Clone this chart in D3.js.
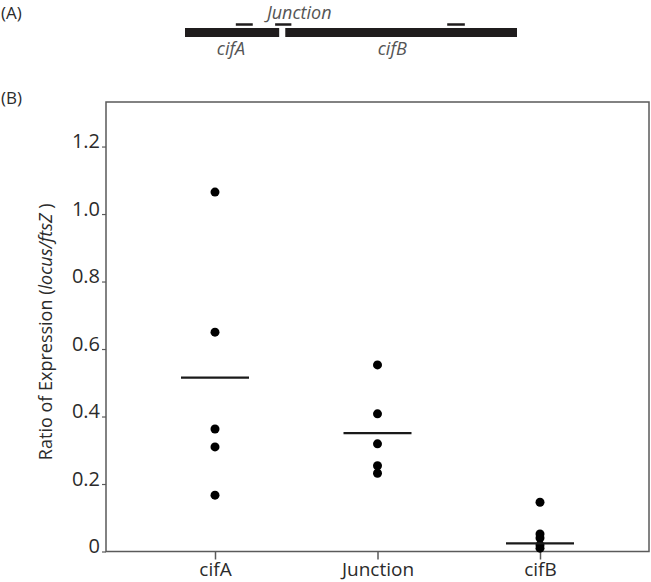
<!DOCTYPE html>
<html>
<head>
<meta charset="utf-8">
<title>cif expression</title>
<script src="https://d3js.org/d3.v7.min.js"></script>
<style>
  body { margin: 0; background: #fff; }
  text { font-family: "Open Sans", "Noto Sans", sans-serif; }
</style>
</head>
<body>
<svg id="mainsvg" width="651" height="582"></svg>
<script>
// ---- data ----
const categories = ['cifA', 'Junction', 'cifB'];
const cifAValues = [1.065, 0.650, 0.363, 0.310, 0.167];
const junctionValues = [0.553, 0.408, 0.319, 0.254, 0.232];
const cifBValues = [0.146, 0.052, 0.040, 0.019, 0.010];
const meanValues = [0.515, 0.351, 0.024];
const yTicks = [0, 0.2, 0.4, 0.6, 0.8, 1.0, 1.2];
const yTickLabels = ['0', '0.2', '0.4', '0.6', '0.8', '1.0', '1.2'];

// gene map (kb, estimated)
const geneNames = ['cifA', 'cifB'];
const geneStarts = [0, 1.48];
const geneEnds = [1.39, 4.9];
const probeStarts = [0.75, 1.33, 3.87];
const probeEnds = [1.0, 1.57, 4.13];

const svg = d3.select('#mainsvg');
const axisColor = '#5a5a5a';
const textColor = '#2b2b2b';

// panel labels
svg.append('text').attr('x', 1).attr('y', 19).attr('font-size', 17)
  .attr('fill', textColor).text('(A)');
svg.append('text').attr('x', 1).attr('y', 104).attr('font-size', 17)
  .attr('fill', textColor).text('(B)');

// ---- (A) gene map ----
const mapX = d3.scaleLinear().domain([0, 4.9]).range([185, 517]);
const gA = svg.append('g');
gA.selectAll('rect.gene')
  .data(geneNames)
  .join('rect')
  .attr('class', 'gene')
  .attr('x', (d, i) => mapX(geneStarts[i]))
  .attr('y', 28)
  .attr('width', (d, i) => mapX(geneEnds[i]) - mapX(geneStarts[i]))
  .attr('height', 9)
  .attr('fill', '#1f1c1d');
gA.selectAll('line.probe')
  .data(probeStarts)
  .join('line')
  .attr('class', 'probe')
  .attr('x1', d => mapX(d))
  .attr('x2', (d, i) => mapX(probeEnds[i]))
  .attr('y1', 24.5).attr('y2', 24.5)
  .attr('stroke', '#1f1c1d').attr('stroke-width', 2.5);
gA.selectAll('text.gname')
  .data(geneNames)
  .join('text')
  .attr('class', 'gname')
  .attr('x', (d, i) => i === 0 ? mapX(geneStarts[i]) + 46 : mapX(geneStarts[i]) + 107)
  .attr('y', 55)
  .attr('text-anchor', 'middle')
  .attr('font-size', 18)
  .attr('font-style', 'italic')
  .attr('fill', '#555')
  .text(d => d);
gA.append('text')
  .attr('x', mapX((probeStarts[1] + probeEnds[1]) / 2) + 16)
  .attr('y', 19)
  .attr('text-anchor', 'middle')
  .attr('font-size', 18)
  .attr('font-style', 'italic')
  .attr('fill', '#555')
  .text('Junction');

// ---- (B) dot plot ----
const frame = { left: 106, right: 649, top: 102, bottom: 551.5 };
const x = d3.scalePoint().domain(categories).range([215, 540]);
const y = d3.scaleLinear().domain([0, 1.332]).range([frame.bottom, frame.top]);

const g = svg.append('g');

// frame
g.append('rect')
  .attr('x', frame.left).attr('y', frame.top)
  .attr('width', frame.right - frame.left)
  .attr('height', frame.bottom - frame.top)
  .attr('fill', 'none')
  .attr('stroke', axisColor).attr('stroke-width', 1.5);

// y axis
const yAxis = d3.axisLeft(y).tickValues(yTicks)
  .tickFormat((d, i) => yTickLabels[i]).tickSize(4).tickPadding(2);
const yg = g.append('g').attr('transform', `translate(${frame.left},0)`).call(yAxis);
yg.select('.domain').remove();
yg.selectAll('line').attr('stroke', axisColor).attr('stroke-width', 1.2);
yg.selectAll('text')
  .attr('font-size', 20)
  .attr('fill', textColor)
  .attr('font-family', '"Open Sans", sans-serif')
  .attr('dy', '0.05em');

// x axis
const xAxis = d3.axisBottom(x).tickSize(8).tickPadding(3);
const xg = g.append('g').attr('transform', `translate(0,${frame.bottom})`).call(xAxis);
xg.select('.domain').remove();
xg.selectAll('line').attr('stroke', axisColor).attr('stroke-width', 1.5);
xg.selectAll('text')
  .attr('font-size', 19)
  .attr('fill', textColor)
  .attr('font-family', '"Open Sans", sans-serif');

// y label
const ylab = svg.append('text')
  .attr('transform', `translate(52,${(frame.top + frame.bottom) / 2 + 5}) rotate(-90)`)
  .attr('text-anchor', 'middle')
  .attr('font-size', 18)
  .attr('fill', textColor);
ylab.append('tspan').text('Ratio of Expression (');
ylab.append('tspan').attr('font-style', 'italic').text('locus/ftsZ');
ylab.append('tspan').text(' )');

// points
const series = [cifAValues, junctionValues, cifBValues];
const points = [];
series.forEach((vals, i) => vals.forEach(v => points.push({ cat: categories[i], v })));
g.selectAll('circle.pt')
  .data(points)
  .join('circle')
  .attr('class', 'pt')
  .attr('cx', d => x(d.cat))
  .attr('cy', d => y(d.v))
  .attr('r', 4.5)
  .attr('fill', '#000');

// mean lines
g.selectAll('line.mean')
  .data(meanValues)
  .join('line')
  .attr('class', 'mean')
  .attr('x1', (d, i) => x(categories[i]) - 34)
  .attr('x2', (d, i) => x(categories[i]) + 34)
  .attr('y1', d => y(d)).attr('y2', d => y(d))
  .attr('stroke', '#1a1a1a').attr('stroke-width', 2.2);
</script>
</body>
</html>
